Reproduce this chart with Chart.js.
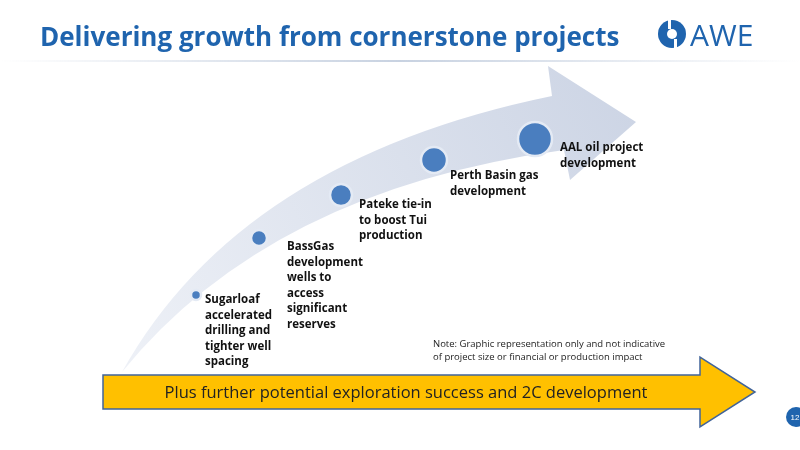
<!DOCTYPE html>
<html><head><meta charset="utf-8">
<script src="https://cdn.jsdelivr.net/npm/chart.js@4/dist/chart.umd.min.js"></script>
<style>html,body{margin:0;padding:0;background:#fff}#c{display:block}</style>
</head><body><canvas id="c" width="800" height="450"></canvas>
<script>
const projects=["Sugarloaf accelerated drilling and tighter well spacing","BassGas development wells to access significant reserves","Pateke tie-in to boost Tui production","Perth Basin gas development","AAL oil project development"];
const labelLines=[["Sugarloaf","accelerated","drilling and","tighter well","spacing"],["BassGas","development","wells to","access","significant","reserves"],["Pateke tie-in","to boost Tui","production"],["Perth Basin gas","development"],["AAL oil project","development"]];
const stageX=[196,259,341,434,535];
const stageY=[295,238,195,160,139];
const stageSize=[5,8,11,13,17];
const title="Delivering growth from cornerstone projects";
const bannerText="Plus further potential exploration success and 2C development";
const noteLines=["Note: Graphic representation only and not indicative","of project size or financial or production impact"];

const deco={id:'deco',beforeDatasetsDraw(ch){
 const c=ch.ctx;c.save();
 c.fillStyle='#1F64AE';c.font='bold 26px "Open Sans", Calibri, sans-serif';c.textBaseline='alphabetic';
 c.fillText(title,40,46);
 const g=c.createLinearGradient(0,0,800,0);g.addColorStop(0,'rgba(200,210,225,0)');g.addColorStop(0.5,'#c8d2e1');g.addColorStop(1,'rgba(200,210,225,0)');
 c.fillStyle=g;c.fillRect(0,60,800,2);
 c.fillStyle='#1F64AE';c.font='30px "Open Sans", sans-serif';c.fillText('AWE',690,46);
 c.beginPath();c.arc(672,34,14,0,Math.PI*2);c.fill();
 c.fillStyle='#fff';c.beginPath();c.arc(672,34,5,0,Math.PI*2);c.fill();
 c.fillRect(668,19,3,10);c.fillRect(674,39,3,10);
 const ag=c.createLinearGradient(120,370,630,110);ag.addColorStop(0,'#eef1f7');ag.addColorStop(1,'#cdd5e5');
 c.fillStyle=ag;c.beginPath();
 c.moveTo(122,372);c.quadraticCurveTo(240,160,552,96);c.lineTo(548,66);c.lineTo(636,122);c.lineTo(570,180);
 c.lineTo(564,150);c.quadraticCurveTo(270,190,122,372);c.closePath();c.fill();
 c.fillStyle='#111';c.font='bold 11.5px "Open Sans", Calibri, sans-serif';
 const lp=[[205,303],[287,250],[359,208],[450,179],[560,151]];
 labelLines.forEach((ls,i)=>ls.forEach((t,j)=>c.fillText(t,lp[i][0],lp[i][1]+j*15.5)));
 c.font='9.5px "Open Sans", Calibri, sans-serif';c.fillStyle='#222';
 noteLines.forEach((t,j)=>c.fillText(t,433,347+j*13));
 c.fillStyle='#FFC000';c.strokeStyle='#41649A';c.lineWidth=1.5;c.beginPath();
 c.moveTo(103,375);c.lineTo(700,375);c.lineTo(700,357);c.lineTo(755,392);c.lineTo(700,427);c.lineTo(700,409);c.lineTo(103,409);c.closePath();c.fill();c.stroke();
 c.fillStyle='#222';c.font='16.5px "Open Sans", Calibri, sans-serif';c.textAlign='center';c.fillText(bannerText,406,398);
 c.fillStyle='#1F64AE';c.beginPath();c.arc(796,417,10,0,Math.PI*2);c.fill();
 c.fillStyle='#fff';c.font='8px sans-serif';c.fillText('12',795,420);
 c.restore();
}};
new Chart(document.getElementById('c'),{type:'bubble',
 data:{labels:projects,datasets:[{data:stageX.map((x,i)=>({x,y:stageY[i],r:stageSize[i]})),backgroundColor:'#4A7EBF',borderColor:'#e4eaf4',borderWidth:2.5,hoverRadius:0}]},
 options:{responsive:false,animation:false,layout:{padding:0,autoPadding:false},plugins:{legend:{display:false},tooltip:{enabled:false}},
  scales:{x:{type:'linear',min:0,max:800,display:false},y:{type:'linear',min:0,max:450,reverse:true,display:false}}},
 plugins:[deco]});
</script></body></html>
